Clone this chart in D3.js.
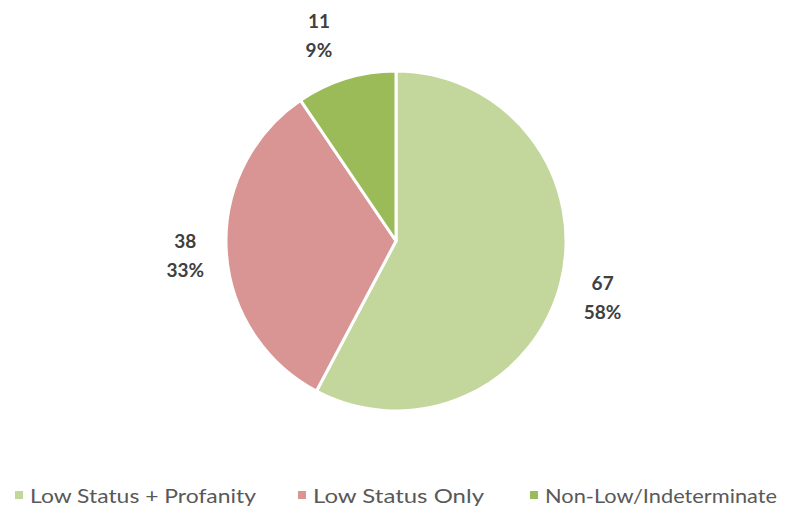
<!DOCTYPE html>
<html><head><meta charset="utf-8">
<script src="https://cdn.jsdelivr.net/npm/d3@7"></script>
<style>body{margin:0;background:#fff;}svg{display:block;}</style>
</head><body>
<svg id="c" width="795" height="509"></svg>
<script>
const categories = ["Low Status + Profanity", "Low Status Only", "Non-Low/Indeterminate"];
const values = [67, 38, 11];
const percentLabels = ["58%", "33%", "9%"];
const colors = ["#C3D69B", "#D99594", "#9BBB59"];

const svg = d3.select("#c");
const cx = 396, cy = 241, r = 170;
const pie = d3.pie().sort(null).value(d => d)(values);
const arc = d3.arc().innerRadius(0).outerRadius(r);
const g = svg.append("g").attr("transform", `translate(${cx},${cy})`);
g.selectAll("path").data(pie).join("path")
  .attr("d", arc)
  .attr("fill", (d, i) => colors[i])
  .attr("stroke", "#fff").attr("stroke-width", 3).attr("stroke-linejoin", "round");

const font = "Lato, 'Open Sans', sans-serif";
const labelR = 215;
const ldx = [-2, 4, -14], ldy = [3, 1, -1];
pie.forEach((d, i) => {
  const a = (d.startAngle + d.endAngle) / 2;
  const x = Math.sin(a) * labelR + ldx[i];
  const y = -Math.cos(a) * labelR + ldy[i];
  const t = g.append("text").attr("text-anchor", "middle")
    .attr("font-family", font).attr("font-weight", "bold").attr("font-size", 19)
    .attr("fill", "#404040");
  t.append("tspan").attr("x", x).attr("y", y - 6).text(values[i]);
  t.append("tspan").attr("x", x).attr("y", y + 23).text(percentLabels[i]);
});

// legend
const legX = [15, 298, 530];
const legW = [226, 171, 232];
const leg = svg.append("g");
categories.forEach((c, i) => {
  leg.append("rect").attr("x", legX[i]).attr("y", 491).attr("width", 8).attr("height", 8).attr("fill", colors[i]);
  leg.append("text").attr("x", legX[i] + 15).attr("y", 503)
    .attr("font-family", font).attr("font-size", 20).attr("fill", "#595959")
    .attr("textLength", legW[i]).attr("lengthAdjust", "spacingAndGlyphs").text(c);
});
</script>
</body></html>
